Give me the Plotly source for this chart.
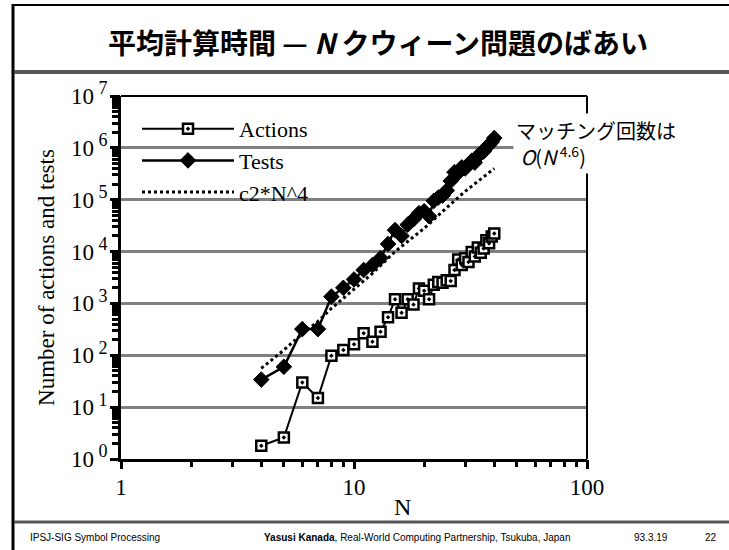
import plotly.graph_objects as go

# ---------------- data ----------------
n_values = list(range(4, 41))
actions = [1.8, 2.6, 30, 15, 98, 126, 163, 265, 183, 285, 540, 1200, 660, 1200, 950,
           1950, 1750, 1200, 2300, 2600, 2500, 2800, 2700, 4400, 7000, 5500, 7400,
           6300, 9800, 8000, 12000, 9500, 11500, 16500, 14400, 19500, 22400]
tests = [34, 60, 320, 320, 1350, 2000, 2900, 4400, 5500, 7500, 14000, 26000, 20000,
         33000, 42000, 55000, 60000, 48000, 95000, 110000, 120000, 150000, 230000,
         340000, 330000, 420000, 400000, 480000, 560000, 520000, 700000, 780000,
         850000, 1000000, 1150000, 1300000, 1550000]
fit_n = [4, 5, 6, 7, 8, 10, 12, 15, 20, 25, 30, 35, 40]
fit_values = [56, 126, 260, 450, 800, 1900, 3800, 10000, 28000, 70000, 145000, 250000, 400000]

x_tickvals = [1, 10, 100]
x_ticktext = ["1", "10", "100"]
y_exponents = [0, 1, 2, 3, 4, 5, 6, 7]

# ---------------- layout helpers ----------------
W, H = 729, 550
L, R, T, B = 121, 587, 96, 459


def px(xp):
    return (xp - L) / (R - L)


def py(yp):
    return (B - yp) / (B - T)


SERIF = "Liberation Serif, Times New Roman, serif"
SANS = "Liberation Sans, Arial, sans-serif"
CJK = "Noto Sans CJK JP, sans-serif"

fig = go.Figure()
fig.add_trace(go.Scatter(
    x=n_values, y=actions, name="Actions", mode="lines+markers",
    line=dict(color="black", width=2),
    marker=dict(symbol="square-dot", size=10, color="white",
                line=dict(color="black", width=2.5)),
))
fig.add_trace(go.Scatter(
    x=n_values, y=tests, name="Tests", mode="lines+markers",
    line=dict(color="black", width=2.5),
    marker=dict(symbol="diamond", size=12, color="black",
                line=dict(color="black", width=1)),
))
fig.add_trace(go.Scatter(
    x=fit_n, y=fit_values, name="c2*N^4", mode="lines",
    line=dict(color="black", width=3, dash="dot"),
))
# invisible trace that carries the overlay axes used for the long major ticks
fig.add_trace(go.Scatter(x=[None], y=[None], xaxis="x2", yaxis="y2", showlegend=False,
                         mode="markers", hoverinfo="skip"))

y_major = [10 ** e for e in y_exponents]
y_labels = ["10<sup><span style='font-size:18px'>&nbsp;%d</span></sup>" % e for e in y_exponents]
y_minor = [k * 10 ** e for e in y_exponents[:-1] for k in range(2, 10)]
x_minor = [k * 10 ** e for e in (0, 1) for k in range(2, 10)]

y_all = y_major + y_minor
y_all_text = y_labels + [""] * len(y_minor)
x_all = x_tickvals + x_minor
x_all_text = x_ticktext + [""] * len(x_minor)

fig.update_layout(
    width=W, height=H,
    margin=dict(l=L, r=W - R, t=T, b=H - B, pad=0),
    paper_bgcolor="white", plot_bgcolor="white",
    showlegend=True,
    legend=dict(x=px(137), y=py(108), xanchor="left", yanchor="top",
                bgcolor="rgba(0,0,0,0)", font=dict(family=SERIF, size=22, color="black"),
                itemwidth=92, tracegroupgap=0),
    xaxis=dict(
        type="log", range=[0, 2], showgrid=False, zeroline=False,
        showline=True, linecolor="black", linewidth=3,
        tickmode="array", tickvals=x_all, ticktext=x_all_text,
        ticks="outside", ticklen=5, tickwidth=3, tickcolor="black",
        tickfont=dict(family=SERIF, size=23, color="black"),
    ),
    yaxis=dict(
        type="log", range=[0, 7], showgrid=False,
        zeroline=False, showline=True, linecolor="black", linewidth=3,
        tickmode="array", tickvals=y_all, ticktext=y_all_text,
        ticks="outside", ticklen=6, tickwidth=2.5, tickcolor="black",
        tickfont=dict(family=SERIF, size=23, color="black"),
        title=dict(text="Number of actions and tests", standoff=10,
                   font=dict(family=SERIF, size=23, color="black")),
    ),
    xaxis2=dict(
        visible=True, type="log", range=[0, 2], overlaying="x", side="bottom", anchor="y2",
        showgrid=False, zeroline=False, showline=False,
        tickmode="array", tickvals=x_tickvals, ticktext=[""] * len(x_tickvals),
        ticks="outside", ticklen=9, tickwidth=3, tickcolor="black",
    ),
    yaxis2=dict(
        visible=True, type="log", range=[0, 7], overlaying="y", side="left", anchor="x2",
        showgrid=True, gridcolor="#808080", gridwidth=3, zeroline=False, showline=False,
        tickmode="array", tickvals=y_major, ticktext=[""] * len(y_major),
        ticks="outside", ticklen=10, tickwidth=3, tickcolor="black",
    ),
)

shapes = [
    # plot box top and right
    dict(type="line", xref="paper", yref="paper", x0=0, x1=1, y0=1, y1=1,
         line=dict(color="black", width=2)),
    dict(type="line", xref="paper", yref="paper", x0=1, x1=1, y0=0, y1=1,
         line=dict(color="black", width=2)),
    # slide frame
    dict(type="line", xref="paper", yref="paper", x0=px(12), x1=px(729), y0=py(5), y1=py(5),
         line=dict(color="black", width=2)),
    dict(type="line", xref="paper", yref="paper", x0=px(13), x1=px(13), y0=py(4), y1=py(550),
         line=dict(color="black", width=3)),
    dict(type="line", xref="paper", yref="paper", x0=px(14), x1=px(729), y0=py(72), y1=py(72),
         line=dict(color="#555555", width=4)),
    dict(type="line", xref="paper", yref="paper", x0=px(14), x1=px(729), y0=py(522), y1=py(522),
         line=dict(color="#555555", width=3)),
]
fig.update_layout(shapes=shapes)

annotations = [
    dict(text="<b>平均計算時間 — <i>N</i> クウィーン問題のばあい</b>",
         x=px(378), y=py(42), xref="paper", yref="paper", showarrow=False,
         xanchor="center", yanchor="middle",
         font=dict(family=CJK, size=28, color="black")),
    dict(text="N", x=px(402), y=py(507), xref="paper", yref="paper", showarrow=False,
         xanchor="center", yanchor="middle",
         font=dict(family=SERIF, size=24, color="black")),
    dict(text="マッチング回数は<br> <i>O</i>(<i>N</i><sup>&nbsp;4.6</sup>)",
         x=px(513), y=py(113), xref="paper", yref="paper", showarrow=False,
         xanchor="left", yanchor="top", align="left", bgcolor="white",
         borderpad=2, font=dict(family=CJK, size=20, color="black")),
    dict(text="IPSJ-SIG Symbol Processing", x=px(28), y=py(537), xref="paper", yref="paper",
         showarrow=False, xanchor="left", yanchor="middle",
         font=dict(family=SANS, size=10, color="black")),
    dict(text="<b>Yasusi Kanada</b>, Real-World Computing Partnership, Tsukuba, Japan",
         x=px(262), y=py(537), xref="paper", yref="paper",
         showarrow=False, xanchor="left", yanchor="middle",
         font=dict(family=SANS, size=10, color="black")),
    dict(text="93.3.19", x=px(651), y=py(537), xref="paper", yref="paper",
         showarrow=False, xanchor="center", yanchor="middle",
         font=dict(family=SANS, size=10, color="black")),
    dict(text="22", x=px(711), y=py(537), xref="paper", yref="paper",
         showarrow=False, xanchor="center", yanchor="middle",
         font=dict(family=SANS, size=10, color="black")),
]
fig.update_layout(annotations=annotations)

fig.write_html(
    "out.html",
    config={"displayModeBar": False},
    post_script="document.body.style.margin='0';document.body.style.overflow='hidden';",
)
